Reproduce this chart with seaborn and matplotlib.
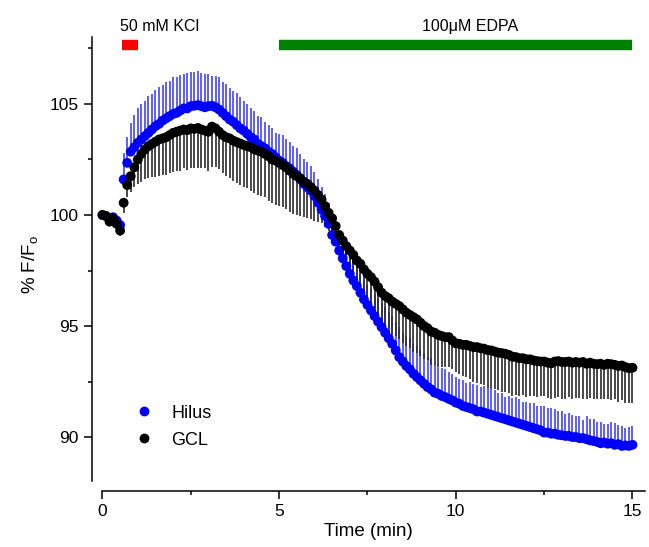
import numpy as np
import pandas as pd
import matplotlib
matplotlib.use("Agg")
import matplotlib.pyplot as plt
import seaborn as sns
from matplotlib.ticker import MultipleLocator

# sampling times (min), one frame every 0.1 min
time = np.linspace(0, 15, 151)

hilus = [
    100.0, 99.95, 99.85, 99.9, 99.75, 99.55,
    101.6, 102.35, 102.85, 103.05, 103.25,
    103.4, 103.55, 103.7, 103.85, 104.0, 104.1, 104.25, 104.35, 104.45, 104.55,
    104.6, 104.7, 104.8, 104.8, 104.9, 104.92, 104.95, 104.9, 104.85, 104.9,
    104.92, 104.85, 104.75, 104.6, 104.45, 104.3, 104.2, 104.05, 103.9, 103.8,
    103.65, 103.5, 103.4, 103.2, 103.1, 103.0, 102.85, 102.75, 102.6, 102.45,
    102.35, 102.2, 102.1, 101.95, 101.8, 101.6, 101.4, 101.25, 101.1, 100.85,
    100.55, 100.25, 99.95, 99.6, 99.1, 98.8, 98.4, 98.05, 97.7, 97.35,
    97.05, 96.8, 96.5, 96.2, 95.95, 95.7, 95.45, 95.2, 94.95, 94.7,
    94.45, 94.2, 93.9, 93.6, 93.4, 93.2, 93.05, 92.85, 92.7, 92.55,
    92.4, 92.25, 92.15, 92.0, 91.95, 91.85, 91.8, 91.72, 91.65, 91.55,
    91.5, 91.4, 91.35, 91.3, 91.25, 91.15, 91.15, 91.1, 91.05, 91.0,
    90.95, 90.9, 90.85, 90.8, 90.75, 90.7, 90.65, 90.6, 90.55, 90.5,
    90.45, 90.4, 90.35, 90.3, 90.2, 90.2, 90.15, 90.15, 90.1, 90.08,
    90.05, 90.05, 90.0, 90.0, 89.95, 89.95, 89.9, 89.85, 89.82, 89.78,
    89.72, 89.75, 89.7, 89.72, 89.65, 89.68, 89.6, 89.62, 89.6, 89.65,
]
hilus_err = [
    0.15, 0.15, 0.2, 0.15, 0.2, 0.25,
    1.2, 1.15, 1.3, 1.45, 1.55,
    1.6, 1.6, 1.65, 1.6, 1.65, 1.65, 1.6, 1.65, 1.6, 1.65,
    1.6, 1.6, 1.55, 1.6, 1.55, 1.5, 1.55, 1.5, 1.5, 1.45,
    1.35, 1.4, 1.45, 1.4, 1.45, 1.4, 1.4, 1.45, 1.4, 1.35,
    1.35, 1.3, 1.3, 1.25, 1.3, 1.2, 1.2, 1.15, 1.1, 1.2,
    1.25, 1.2, 1.2, 1.15, 1.2, 1.15, 1.1, 1.15, 1.1, 1.1,
    1.05, 1.0, 1.0, 0.95, 1.0, 0.95, 0.9, 0.95, 0.9, 0.9,
    0.85, 0.9, 0.85, 0.85, 0.9, 0.95, 1.0, 1.05, 1.1, 1.15,
    1.2, 1.25, 1.3, 1.35, 1.3, 1.35, 1.4, 1.35, 1.4, 1.35,
    1.4, 1.35, 1.4, 1.3, 1.3, 1.25, 1.25, 1.2, 1.2, 1.15,
    1.1, 1.15, 1.1, 1.2, 1.15, 1.2, 1.1, 1.2, 1.15, 1.2,
    1.15, 1.1, 1.15, 1.0, 1.1, 1.05, 1.15, 1.1, 1.05, 1.1,
    1.1, 1.15, 1.05, 1.1, 1.2, 1.1, 1.15, 1.1, 1.05, 1.1,
    1.0, 1.05, 1.0, 0.95, 1.0, 0.8, 1.05, 0.95, 1.0, 0.9,
    0.95, 0.85, 0.9, 0.95, 1.0, 0.85, 0.9, 0.8, 0.85, 0.85,
]

gcl = [
    100.0, 99.95, 99.7, 99.85, 99.6, 99.3,
    100.55, 101.35, 101.75, 102.15, 102.5,
    102.75, 102.95, 103.1, 103.2, 103.3, 103.4, 103.45, 103.5, 103.6, 103.7,
    103.75, 103.8, 103.85, 103.82, 103.9, 103.88, 103.92, 103.85, 103.8, 103.75,
    103.98, 103.9, 103.75, 103.6, 103.5, 103.45, 103.35, 103.28, 103.22, 103.15,
    103.1, 103.05, 102.95, 102.9, 102.85, 102.75, 102.65, 102.5, 102.45, 102.35,
    102.25, 102.15, 102.0, 101.85, 101.75, 101.65, 101.5, 101.4, 101.25, 101.1,
    100.9, 100.7, 100.4, 100.1, 99.85, 99.5, 99.1, 98.85, 98.6, 98.4,
    98.2, 97.95, 97.8, 97.55, 97.35, 97.2, 97.0, 96.75, 96.5, 96.35,
    96.25, 96.1, 96.0, 95.9, 95.75, 95.6, 95.5, 95.4, 95.3, 95.15,
    95.0, 94.9, 94.75, 94.7, 94.6, 94.55, 94.5, 94.5, 94.35, 94.22,
    94.2, 94.15, 94.15, 94.1, 94.05, 94.05, 94.0, 93.98, 93.92, 93.9,
    93.85, 93.8, 93.78, 93.75, 93.7, 93.62, 93.6, 93.55, 93.55, 93.5,
    93.5, 93.45, 93.42, 93.4, 93.4, 93.35, 93.32, 93.4, 93.42, 93.38,
    93.38, 93.4, 93.35, 93.38, 93.35, 93.38, 93.3, 93.35, 93.3, 93.28,
    93.3, 93.25, 93.3, 93.28, 93.25, 93.2, 93.22, 93.15, 93.1, 93.12,
]
gcl_err = [
    0.15, 0.15, 0.2, 0.15, 0.2, 0.25,
    0.45, 0.55, 0.7, 0.9, 1.1,
    1.25, 1.35, 1.45, 1.5, 1.6, 1.65, 1.65, 1.7, 1.7, 1.75,
    1.75, 1.8, 1.75, 1.8, 1.8, 1.75, 1.8, 1.75, 1.7, 1.75,
    1.8, 1.75, 1.7, 1.7, 1.75, 1.8, 1.8, 1.85, 1.85, 1.9,
    1.9, 1.95, 1.95, 2.0, 2.0, 1.95, 2.0, 1.95, 2.0, 1.95,
    1.9, 1.9, 1.85, 1.8, 1.75, 1.7, 1.6, 1.55, 1.45, 1.35,
    1.2, 1.05, 0.95, 0.8, 0.75, 0.7, 0.7, 0.75, 0.8, 0.85,
    0.9, 0.95, 1.0, 1.05, 1.1, 1.15, 1.2, 1.25, 1.3, 1.35,
    1.4, 1.45, 1.45, 1.5, 1.5, 1.5, 1.5, 1.55, 1.5, 1.5,
    1.5, 1.45, 1.5, 1.45, 1.4, 1.4, 1.35, 1.35, 1.3, 1.3,
    1.35, 1.4, 1.45, 1.5, 1.55, 1.6, 1.6, 1.65, 1.7, 1.7,
    1.7, 1.7, 1.75, 1.7, 1.7, 1.75, 1.7, 1.7, 1.65, 1.7,
    1.65, 1.6, 1.6, 1.55, 1.55, 1.6, 1.6, 1.65, 1.6, 1.65,
    1.65, 1.6, 1.65, 1.6, 1.6, 1.65, 1.6, 1.6, 1.6, 1.55,
    1.6, 1.55, 1.6, 1.6, 1.55, 1.6, 1.55, 1.6, 1.55, 1.6,
]

regions = ["Hilus", "GCL"]
colors = {"Hilus": "#0000ff", "GCL": "#000000"}

# application periods (min)
kcl_on = (0.55, 1.0)
edpa_on = (5.0, 15.0)

sns.set_theme(style="ticks")
plt.rcParams["font.family"] = ["Liberation Sans", "DejaVu Sans"]
plt.rcParams["mathtext.fontset"] = "custom"
plt.rcParams["mathtext.rm"] = "Liberation Sans"
plt.rcParams["text.color"] = "black"
plt.rcParams["axes.labelcolor"] = "black"
plt.rcParams["xtick.color"] = "black"
plt.rcParams["ytick.color"] = "black"

df = pd.concat([
    pd.DataFrame({"time": time, "value": hilus, "err": hilus_err, "region": "Hilus"}),
    pd.DataFrame({"time": time, "value": gcl, "err": gcl_err, "region": "GCL"}),
])

fig = plt.figure(figsize=(6.49, 5.47), dpi=100)
ax = fig.add_axes([0.141, 0.1024, 0.8526, 0.8293])

h = df[df["region"] == "Hilus"]
g = df[df["region"] == "GCL"]
# one sided error bars: Hilus up, GCL down
ax.vlines(h["time"], h["value"], h["value"] + h["err"], colors="#3a3aff", lw=1.15, zorder=1)
ax.vlines(g["time"], g["value"] - g["err"], g["value"], colors="#2a2a2a", lw=1.2, zorder=1.5)

sns.scatterplot(data=df, x="time", y="value", hue="region", hue_order=regions,
                palette=colors, s=50, linewidth=0, ax=ax, zorder=3)

ax.set_xlim(-0.31, 15.35)
ax.set_ylim(87.57, 108)
ax.set_xticks([0, 5, 10, 15])
ax.set_yticks([90, 95, 100, 105])
ax.xaxis.set_minor_locator(MultipleLocator(2.5))
ax.yaxis.set_minor_locator(MultipleLocator(2.5))
ax.tick_params(which="major", direction="out", length=6, width=1.1, labelsize=12.5)
ax.tick_params(which="minor", direction="out", length=3.2, width=1.1)
for side in ["top", "right"]:
    ax.spines[side].set_visible(False)
for side in ["left", "bottom"]:
    ax.spines[side].set_linewidth(1.1)
    ax.spines[side].set_color("black")
ax.spines["left"].set_bounds(88, 108)
ax.spines["bottom"].set_bounds(0, 15.35)

ax.set_xlabel("Time (min)", fontsize=13.5, labelpad=3)
ax.set_ylabel("% F/F$_{\\mathrm{o}}$", fontsize=13.5, labelpad=6)

# drug application bars
ax.hlines(107.66, *kcl_on, colors="#ff0000", lw=7.5, clip_on=False)
ax.hlines(107.66, *edpa_on, colors="#008000", lw=7.5, clip_on=False)
ax.text(1.61, 108.5, "50 mM KCl", ha="center", va="center", fontsize=11.5, clip_on=False)
ax.text(10.4, 108.5, "100\u03bcM EDPA", ha="center", va="center", fontsize=11.5, clip_on=False)

handles, labels = ax.get_legend_handles_labels()
ax.legend(handles, labels, loc="center left", bbox_to_anchor=(0.05, 0.142), frameon=False,
          fontsize=13, handlelength=1.0, handletextpad=1.0, labelspacing=0.55, markerscale=1.0)

plt.savefig("out.png", dpi=100)
